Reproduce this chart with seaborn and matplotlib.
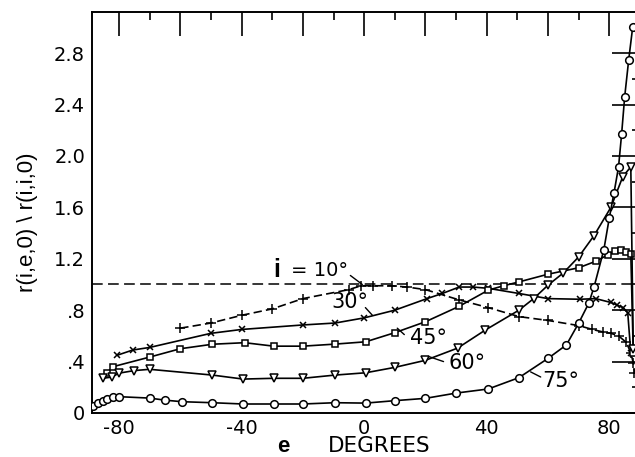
import matplotlib
matplotlib.use("Agg")
import matplotlib.pyplot as plt
import seaborn as sns
import numpy as np

# ---- data ----
e_10 = [-60, -50, -40, -30, -20, -5, -1, 3, 9, 14, 20, 31, 40.5, 50.5, 60, 70,
        74.5, 78, 80.5, 83, 85.5, 87, 87.8, 88.2]
r_10 = [0.66, 0.70, 0.76, 0.81, 0.89, 0.96, 0.99, 0.99, 0.99, 0.98, 0.96, 0.88,
        0.82, 0.75, 0.72, 0.68, 0.65, 0.63, 0.62, 0.60, 0.55, 0.47, 0.39, 0.31]

e_30 = [-80.5, -75.5, -70, -50, -40, -20, -9.5, 0, 10, 20.5, 25.5, 31, 35.5,
        40.5, 50.5, 60, 70.5, 75.5, 80.5, 82.5, 84.5, 86, 87]
r_30 = [0.45, 0.49, 0.51, 0.62, 0.65, 0.685, 0.70, 0.74, 0.80, 0.89, 0.93,
        0.98, 0.98, 0.97, 0.93, 0.89, 0.885, 0.89, 0.86, 0.84, 0.82, 0.78, 0.47]

e_45 = [-84, -82, -70, -60, -49.5, -39, -29.5, -20, -9.5, 0.5, 10, 20, 31,
        40.5, 45.5, 50.5, 60, 70, 75.5, 79.5, 82, 83.7, 85.4, 87, 87.8]
r_45 = [0.31, 0.36, 0.435, 0.50, 0.535, 0.547, 0.52, 0.52, 0.536, 0.554,
        0.625, 0.71, 0.83, 0.956, 0.99, 1.02, 1.08, 1.13, 1.18, 1.23, 1.26,
        1.27, 1.25, 1.24, 0.47]

e_60 = [-85.2, -82.3, -80, -75, -70, -49.5, -39.5, -29.5, -20, -9.5, 0.5, 10,
        20, 30.5, 39.5, 50.5, 55.3, 60, 65, 70, 75, 80.5, 84.4, 87, 87.8]
r_60 = [0.27, 0.28, 0.31, 0.33, 0.34, 0.295, 0.264, 0.27, 0.27, 0.295, 0.313,
        0.355, 0.41, 0.505, 0.645, 0.80, 0.89, 0.995, 1.09, 1.215, 1.38, 1.60,
        1.84, 1.915, 0.50]

e_75 = [-88.5, -87, -85.2, -84, -82, -80, -70, -65, -59.5, -49.5, -39.5,
        -29.5, -20, -9.5, 0.5, 10, 20, 30, 40.5, 50.5, 60, 66, 70, 73.3, 75,
        78.2, 80, 81.5, 83, 84, 85, 86.3, 87.6]
r_75 = [0.054, 0.08, 0.096, 0.107, 0.127, 0.127, 0.116, 0.10, 0.088, 0.08,
        0.07, 0.07, 0.07, 0.08, 0.077, 0.096, 0.114, 0.155, 0.187, 0.275,
        0.425, 0.53, 0.70, 0.855, 0.98, 1.27, 1.52, 1.71, 1.915, 2.17, 2.46,
        2.745, 3.0]

x_ticks = [-80, -60, -40, -20, 0, 20, 40, 60, 80]
x_tick_labels = ["-80", "", "-40", "", "0", "", "40", "", "80"]
y_ticks = [0, 0.4, 0.8, 1.2, 1.6, 2.0, 2.4, 2.8]
y_tick_labels = ["0", ".4", ".8", "1.2", "1.6", "2.0", "2.4", "2.8"]

sns.set_style("white")
plt.rcParams["font.family"] = ["DejaVu Sans"]
plt.rcParams["axes.unicode_minus"] = False
plt.rcParams["text.color"] = "black"

fig = plt.figure(figsize=(6.35, 4.57), dpi=100)
ax = fig.add_axes([92 / 635, 44 / 457, 548 / 635, 401 / 457])

ax.axhline(1.0, color="black", lw=1.1, ls=(0, (7, 3.5)), zorder=1)

series = [
    (e_10, r_10, "+", (0, (5, 2.5)), 6.5),
    (e_30, r_30, "x", "-", 5),
    (e_45, r_45, "s", "-", 5),
    (e_60, r_60, "v", "-", 5.5),
    (e_75, r_75, "o", "-", 5.5),
]
for e, r, mk, ls, ms in series:
    sns.lineplot(x=e, y=r, ax=ax, sort=False, estimator=None, color="black",
                 lw=1.2, ls=ls, marker=mk, ms=ms, mfc="white", mec="black",
                 mew=1.1, zorder=3)

ax.set_xlim(-88.8, 90)
ax.set_ylim(0, 3.12)
ax.set_xticks(x_ticks, x_tick_labels)
ax.set_xticks(np.arange(-80, 90, 10), minor=True)
ax.set_yticks(y_ticks, y_tick_labels)
ax.set_yticks(np.arange(0.2, 3.1, 0.4), minor=True)

ax.tick_params(axis="both", which="both", direction="in", top=True,
               right=True, colors="black", labelcolor="black", width=1.2)
ax.tick_params(axis="x", which="major", length=17, labelsize=14, pad=4)
ax.tick_params(axis="x", which="minor", length=6)
ax.tick_params(axis="y", which="major", length=20, labelsize=14, pad=5)
ax.tick_params(axis="y", which="minor", length=6)
for sp in ax.spines.values():
    sp.set_linewidth(1.4)
    sp.set_color("black")

# curve labels
lab = dict(fontsize=15, color="black", ha="center", va="center")
ax.text(-28.4, 1.11, "i", fontsize=18, fontweight="bold",
        family="Liberation Sans", ha="center", va="center")
ax.text(-24.0, 1.11, "= 10°", fontsize=14, ha="left", va="center")
ax.text(-4.5, 0.86, "30°", **lab)
ax.text(21.0, 0.58, "45°", **lab)
ax.text(33.5, 0.39, "60°", **lab)
ax.text(64.0, 0.25, "75°", **lab)
leaders = [((-4.5, 1.07), (-0.6, 1.00)),
           ((0.4, 0.82), (2.7, 0.76)),
           ((13.1, 0.61), (10.8, 0.66)),
           ((21.0, 0.44), (25.9, 0.40)),
           ((54.3, 0.32), (57.6, 0.28))]
for p0, p1 in leaders:
    ax.annotate("", xy=p1, xytext=p0,
                arrowprops=dict(arrowstyle="-", color="black", lw=1.0,
                                shrinkA=0, shrinkB=0))

ax.set_xlabel("")
ax.set_ylabel("")
fig.text(28 / 635, 1 - 222 / 457, r"r(i,e,0) \ r(i,i,0)", rotation=90,
         family="Liberation Sans", fontsize=16, ha="center", va="center",
         color="black")
fig.text(283 / 635, 1 - 446 / 457, "e", family="Liberation Sans",
         fontweight="bold", fontsize=16, ha="center", va="center",
         color="black")
fig.text(379 / 635, 1 - 446 / 457, "DEGREES", fontsize=15.5,
         ha="center", va="center", color="black")

fig.savefig("out.png", dpi=100)
